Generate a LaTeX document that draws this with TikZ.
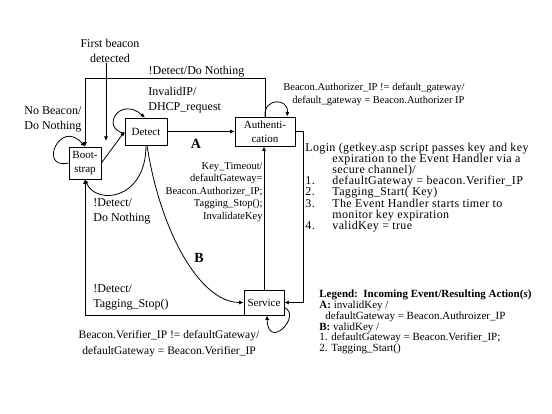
\documentclass[tikz,border=0pt]{standalone}
\usepackage{fontspec}
\setmainfont{Liberation Serif}
\newfontfamily\bcwide[LetterSpace=3]{Liberation Serif}
\usetikzlibrary{arrows.meta}
\newcommand{\bcitem}[2]{\makebox[27pt][l]{#1}#2}
\begin{document}
\begin{tikzpicture}[x=1pt,y=1pt,line width=0.8pt,>={Latex[length=4.5pt,width=4pt]},
  state/.style={draw,inner sep=1pt,align=center,font=\fontsize{11}{14}\selectfont},
  lbl/.style={inner sep=0pt,align=left,font=\fontsize{12}{15}\selectfont},
  big/.style={inner sep=0pt,font=\fontsize{14}{14}\selectfont\bfseries}]
  \useasboundingbox (0,0) rectangle (552,-414);
  \node[state,minimum width=32pt,minimum height=32pt] (boot) at (85,-163) {Boot-\\strap};
  \node[state,minimum width=42pt,minimum height=27pt] (detect) at (146,-131.5) {Detect};
  \node[state,minimum width=60pt,minimum height=29pt] (auth) at (265,-131.5) {Authenti-\\cation};
  \node[state,minimum width=40pt,minimum height=25pt] (serv) at (264,-302.5) {Service};
  \coordinate (topy) at (0,-78);
  \coordinate (fbend) at (106,-141);
  \node[lbl,align=center] (first) at (110,-51) {First beacon\\detected};
  \draw[->] ([xshift=-4pt]first.south) -- (fbend);
  \draw[->] (auth.north) -- (auth.north |- topy) -- (boot.north |- topy) -- (boot.north);
  \draw[->] (auth.north) .. controls +(-2,19) and +(2,19) .. ([xshift=22pt]auth.north);
  \draw[->] (boot.west) .. controls +(-31,-7) and +(-25,29) .. (boot.north);
  \draw[->] (boot.east) -- (detect.west);
  \draw[->] ([yshift=-2pt]detect.west) .. controls +(-25,5.5) and +(-25,22) .. ([xshift=-1pt]detect.north);
  \draw[->] (detect.east) -- (auth.west);
  \draw[->] (detect.south) .. controls +(0,-55) and +(11,-26) .. (boot.south);
  \draw[->] ([xshift=1pt]detect.south) .. controls +(13,-85) and +(-44,0) .. (serv.west);
  \draw[->] (serv.south west) -| (boot.south);
  \draw[->] (serv.north) -- (serv.north |- auth.south);
  \draw[->] (auth.east) -- ++(8,0) |- (serv.east);
  \draw[->] ([yshift=-5pt]serv.east) .. controls +(18,-8) and +(1,-36) .. ([xshift=3pt]serv.south);
  \node[lbl] (topl) at (196.5,-72) {!Detect/Do Nothing};
  \node[lbl,anchor=west] (nob) at (24,-119) {No Beacon/\\Do Nothing};
  \node[lbl,anchor=west] (dhcp) at (148,-100) {InvalidIP/\\DHCP\_request};
  \node[lbl,anchor=west] (dn) at (93,-211) {!Detect/\\Do Nothing};
  \node[lbl,anchor=west] (ts) at (93,-297) {!Detect/\\Tagging\_Stop()};
  \node[big] (la) at (196,-144) {A};
  \node[big] (lb) at (199,-258) {B};
  \node[lbl,anchor=east,align=right,font=\fontsize{10.5}{12.5}\selectfont] (kt) at (263,-192)
    {Key\_Timeout/\\defaultGateway=\\Beacon.Authorizer\_IP;\\Tagging\_Stop();\\InvalidateKey};
  \node[lbl,anchor=west,font=\fontsize{10.5}{13}\selectfont] (al) at (283,-94.5)
    {Beacon.Authorizer\_IP != default\_gateway/\\\hspace*{9pt}default\_gateway = Beacon.Authorizer IP};
  \node[lbl,anchor=west,font=\fontsize{12}{11.2}\bcwide] (login) at (305,-187.5)
    {Login (getkey.asp script passes key and key\\
     \bcitem{}{expiration to the Event Handler via a}\\
     \bcitem{}{secure channel)/}\\
     \bcitem{1.}{defaultGateway = beacon.Verifier\_IP}\\
     \bcitem{2.}{Tagging\_Start( Key)}\\
     \bcitem{3.}{The Event Handler starts timer to}\\
     \bcitem{}{monitor key expiration}\\
     \bcitem{4.}{validKey = true}};
  \node[lbl,anchor=west,font=\fontsize{11}{10.8}\selectfont] (legend) at (319,-322)
    {\textbf{Legend:\ \ Incoming Event/Resulting Action(\textit{s})}\\
     \textbf{A:} invalidKey /\\
     \hspace*{6pt}defaultGateway = Beacon.Authroizer\_IP\\
     \textbf{B:} validKey /\\
     1. defaultGateway = Beacon.Verifier\_IP;\\
     2. Tagging\_Start()};
  \node[lbl,align=center,font=\fontsize{11.5}{16}\selectfont] (vl) at (169,-344)
    {Beacon.Verifier\_IP != defaultGateway/\\defaultGateway = Beacon.Verifier\_IP};
\end{tikzpicture}
\end{document}
